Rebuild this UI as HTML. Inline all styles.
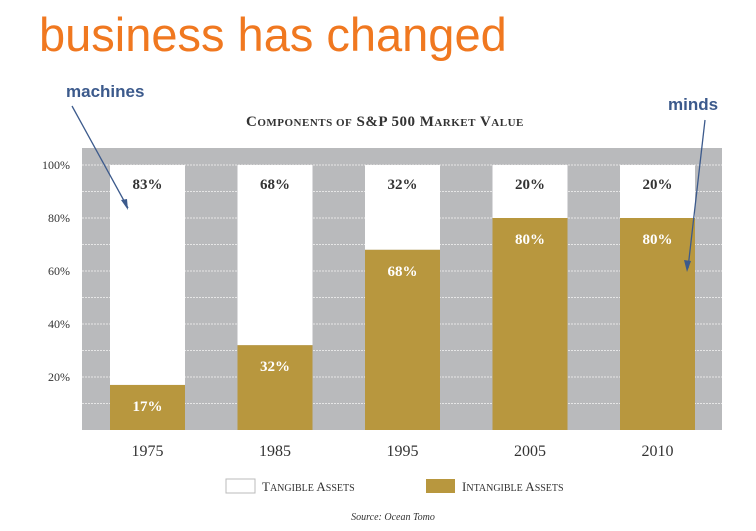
<!DOCTYPE html>
<html><head><meta charset="utf-8"><style>
body{margin:0;background:#fff;width:756px;height:531px;overflow:hidden}
svg{display:block}
</style></head><body>
<svg width="756" height="531" xmlns="http://www.w3.org/2000/svg">
<text x="39" y="51" font-family="Liberation Sans, sans-serif" font-size="47" fill="#f07820">business has changed</text>
<text x="246" y="126" font-family="Liberation Serif, serif" font-size="15" font-weight="bold" fill="#333" letter-spacing="0.5">C<tspan font-size="11">OMPONENTS OF</tspan> S&amp;P 500 M<tspan font-size="11">ARKET</tspan> V<tspan font-size="11">ALUE</tspan></text>
<rect x="82" y="148" width="640" height="282" fill="#b9babc"/>
<g id="grid"></g>
<g id="bars"></g>
<g id="yticks"></g>
<g id="xlabels"></g>
<text x="66" y="97" font-family="Liberation Sans, sans-serif" font-size="17" font-weight="bold" fill="#3c5a8c">machines</text>
<line x1="72" y1="106" x2="128" y2="208" stroke="#3c5a8c" stroke-width="1.3"/>
<polygon points="128,210 121,200 127,199" fill="#3c5a8c"/>
<text x="668" y="110" font-family="Liberation Sans, sans-serif" font-size="17" font-weight="bold" fill="#3c5a8c">minds</text>
<line x1="705" y1="120" x2="688" y2="268" stroke="#3c5a8c" stroke-width="1.3"/>
<polygon points="687,272 684,260 691,261" fill="#3c5a8c"/>
<rect x="226" y="479" width="29" height="14" fill="#fff" stroke="#bbb"/>
<text x="262" y="491" font-family="Liberation Serif, serif" font-size="13" fill="#333">T<tspan font-size="10">ANGIBLE</tspan> A<tspan font-size="10">SSETS</tspan></text>
<rect x="426" y="479" width="29" height="14" fill="#b8973e"/>
<text x="462" y="491" font-family="Liberation Serif, serif" font-size="13" fill="#333">I<tspan font-size="10">NTANGIBLE</tspan> A<tspan font-size="10">SSETS</tspan></text>
<text x="393" y="520" text-anchor="middle" font-family="Liberation Serif, serif" font-size="10" font-style="italic" fill="#333">Source: Ocean Tomo</text>
</svg>
<script>
const years = ["1975","1985","1995","2005","2010"];
const intangible = [17, 32, 68, 80, 80];
const tangible = [83, 68, 32, 20, 20];
const yTicks = [20, 40, 60, 80, 100];
const NS = "http://www.w3.org/2000/svg";
const y0 = 430, pxPer = 2.65;
function yScale(v){ return y0 - v * pxPer; }
function xScale(i){ return 110 + i * 127.5; }
const barW = 75;
function mk(tag, attrs, parent){ const e=document.createElementNS(NS,tag); for(const k in attrs) e.setAttribute(k,attrs[k]); parent.appendChild(e); return e; }
const grid=document.getElementById('grid'), bars=document.getElementById('bars'), yt=document.getElementById('yticks'), xl=document.getElementById('xlabels');
for(let v=10; v<=100; v+=10){
  const l=mk('line',{x1:82,x2:722,y1:yScale(v),y2:yScale(v),stroke:'#e6e6e6','stroke-width':1,'stroke-dasharray':'2,1'},grid);
  
  
}
yTicks.forEach(v=>{
  const t=mk('text',{x:70,y:yScale(v)+4,'text-anchor':'end','font-family':'Liberation Serif, serif','font-size':12,fill:'#333'},yt);
  t.textContent=v+'%';
  
  
});
years.forEach((yr,i)=>{
  const x=xScale(i), top=yScale(intangible[i]+tangible[i]), mid=yScale(intangible[i]);
  const tr=mk('rect',{x:x,y:top,width:barW,height:mid-top,fill:'#fff'},bars);
  
  
  const ir=mk('rect',{x:x,y:mid,width:barW,height:y0-mid,fill:'#b8973e'},bars);
  
  
  const tl=mk('text',{x:x+barW/2,y:top+24,'text-anchor':'middle','font-family':'Liberation Serif, serif','font-size':15,'font-weight':'bold',fill:'#333'},bars);
  tl.textContent=tangible[i]+'%';
  
  
  const il=mk('text',{x:x+barW/2,y:mid+26,'text-anchor':'middle','font-family':'Liberation Serif, serif','font-size':15,'font-weight':'bold',fill:'#fff'},bars);
  il.textContent=intangible[i]+'%';
  
  
  const xt=mk('text',{x:x+barW/2,y:456,'text-anchor':'middle','font-family':'Liberation Serif, serif','font-size':16,fill:'#333'},xl);
  xt.textContent=yr;
  
  
});
</script>
</body></html>
